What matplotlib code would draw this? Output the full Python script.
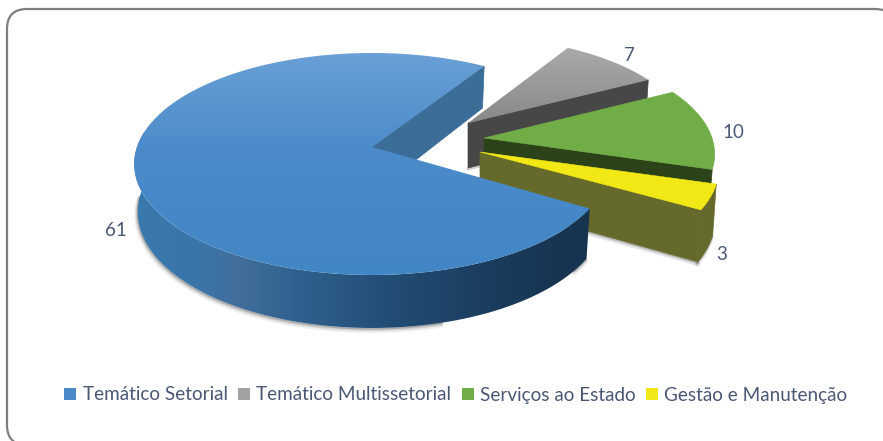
import numpy as np
import matplotlib
matplotlib.use("Agg")
import matplotlib.pyplot as plt
from matplotlib.patches import Polygon, FancyBboxPatch, Patch
from matplotlib.colors import LinearSegmentedColormap

categories = ["Temático Setorial", "Temático Multissetorial", "Serviços ao Estado", "Gestão e Manutenção"]
values = [61, 7, 10, 3]
legend_colors = ["#4a8ac8", "#a2a2a2", "#70ad47", "#f2e816"]

# slice geometry: apex x, apex y, horizontal radius, vertical radius, perspective, depth at centre, depth slope
GEOM = [(372, 147, 235, 108.4, 0.153, 47, 6),
        (468, 123, 218, 99, 0.15, 45, 6),
        (484, 138, 228, 105, 0.15, 38, 6),
        (480, 152, 236, 107, 0.15, 49, 6)]
START_ANGLE = -30.0  # the first slice starts here, slices run clockwise
FIRST_SLICE_TURN = -1.5  # the exploded first slice sits slightly turned in the projection
TEXT = "#4a5875"
FONT = "Lato"

plt.rcParams["font.family"] = [FONT, "DejaVu Sans"]
fig = plt.figure(figsize=(8.83, 4.41), dpi=100)
ax = fig.add_axes([0, 0, 1, 1])
ax.set_xlim(0, 883)
ax.set_ylim(441, 0)
ax.axis("off")

ax.add_patch(FancyBboxPatch((7 + 20, 9 + 20), 888 - 40, 436 - 40, boxstyle="round,pad=20,rounding_size=20",
                            fc="white", ec="#7f7f7f", lw=1.6, zorder=0))

total = sum(values)
spans = [v / total * 360 for v in values]
edges = START_ANGLE - np.concatenate([[0], np.cumsum(spans)])


def top_pt(g, deg, r=1.0):
    cx, cy, A, a, k, d0, d1 = g
    X, Y = r * np.cos(np.radians(deg)), r * np.sin(np.radians(deg))
    f = 1 / (1 + k * Y)
    return np.array([cx + A * X * f, cy - a * Y * f])


def bot_pt(g, deg, r=1.0):
    cx, cy, A, a, k, d0, d1 = g
    p = top_pt(g, deg, r)
    Y = r * np.sin(np.radians(deg))
    return np.array([cx + (p[0] - cx) * 0.985, p[1] + d0 - d1 * Y])


def arc(fn, g, a0, a1, n=160):
    return np.array([fn(g, d) for d in np.linspace(a0, a1, n)])


def wedge(g, a0, a1):
    return np.vstack([[g[0], g[1]], arc(top_pt, g, a0, a1)])


def cut_face(g, deg):
    return [top_pt(g, deg, 0), top_pt(g, deg), bot_pt(g, deg), bot_pt(g, deg, 0)]


def gradient_fill(poly, stops, cols, z, horizontal=False):
    p = Polygon(poly, closed=True, fc="none", ec="none", transform=ax.transData)
    ax.add_patch(p)
    s0, s1 = stops[0], stops[-1]
    cm = LinearSegmentedColormap.from_list(
        "g", [((s - s0) / (s1 - s0), c) for s, c in zip(stops, cols)])
    ramp = np.linspace(0, 1, 256)
    if horizontal:
        im = ax.imshow(ramp[None, :], cmap=cm, extent=(s0, s1, 441, 0), aspect="auto", zorder=z,
                       interpolation="bilinear")
    else:
        im = ax.imshow(ramp[:, None], cmap=cm, extent=(0, 883, s1, s0), aspect="auto", zorder=z,
                       interpolation="bilinear")
    im.set_clip_path(p)


def rim_poly(g, a0, a1):
    return np.vstack([arc(top_pt, g, a0, a1), arc(bot_pt, g, a1, a0)])


def shadow(g, a0, a1, z):
    b = arc(bot_pt, g, a0, a1)
    for off, al, lw in [(2.5, 0.10, 3.5), (1.5, 0.18, 2.2), (0.8, 0.30, 1.2)]:
        ax.plot(b[:, 0] - off * 0.4, b[:, 1] + off, color="#555555", alpha=al, lw=lw, zorder=z,
                solid_capstyle="round")


# ----- gray slice
g = GEOM[1]
a0, a1 = edges[2], edges[1]
ax.add_patch(Polygon(cut_face(g, a0), closed=True, fc="#474747", ec="#474747", lw=0.5, zorder=2))
gradient_fill(wedge(g, a0, a1), [45, 130], ["#ababab", "#858585"], 3)
b = np.array([bot_pt(g, a0, 0), bot_pt(g, a0, 0.1)])
ax.plot(b[:, 0], b[:, 1] + 1, color="#888888", alpha=0.4, lw=2, zorder=1)

# ----- green slice
g = GEOM[2]
a0, a1 = edges[3], edges[2]
ax.add_patch(Polygon(cut_face(g, a0), closed=True, fc="#2c431a", ec="#2c431a", lw=0.5, zorder=4))
ax.add_patch(Polygon(wedge(g, a0, a1), closed=True, fc=legend_colors[2], ec=legend_colors[2], lw=0.4, zorder=5))

# ----- yellow slice
g = GEOM[3]
a0, a1 = edges[4], edges[3]
shadow(g, a0, a1, 5.5)
b = np.array([bot_pt(g, a0, 0.4), bot_pt(g, a0, 1.0)])
for off, al, lw in [(2.0, 0.15, 3), (1.0, 0.3, 1.5)]:
    ax.plot(b[:, 0], b[:, 1] + off, color="#555555", alpha=al, lw=lw, zorder=5.5)
ax.add_patch(Polygon(cut_face(g, a0), closed=True, fc="#66692c", ec="#66692c", lw=0.5, zorder=6))
ax.add_patch(Polygon(rim_poly(g, a0, a1), closed=True, fc="#66692c", ec="#66692c", lw=0.5, zorder=6))
ax.add_patch(Polygon(wedge(g, a0, a1), closed=True, fc=legend_colors[3], ec=legend_colors[3], lw=0.4, zorder=7))

# ----- blue slice
g = GEOM[0]
a0, a1 = edges[0] + FIRST_SLICE_TURN, edges[1] + FIRST_SLICE_TURN
shadow(g, -75, -179, 7.5)
shadow(g, a0, a0 - 6, 7.5)
ax.add_patch(Polygon(cut_face(g, a1 + 360), closed=True, fc="#3c6d99", ec="#3c6d99", lw=0.5, zorder=8))
gradient_fill(rim_poly(g, a0, -188), [130, 200, 235, 300, 400, 500, 590],
              ["#3b7aae", "#3a74a9", "#436f9c", "#2f608d", "#214b72", "#1a3b5c", "#16334f"], 9, horizontal=True)
gradient_fill(wedge(g, a0, a1), [50, 150, 280], ["#6ba0d7", "#4b8bca", "#4186c5"], 10)

# ----- value labels
label_xy = [(116, 230.5), (629, 55.5), (733, 132.5), (722, 254.5)]
for v, (x, y) in zip(values, label_xy):
    ax.text(x, y, str(v), ha="center", va="center", fontsize=13.5, color=TEXT, zorder=12)

# ----- legend
handles = [Patch(fc=c, ec=c, lw=0) for c in legend_colors]
leg = ax.legend(handles, categories, loc="center", bbox_to_anchor=(456, 395), bbox_transform=ax.transData,
                ncol=4, frameon=False, fontsize=13.6, labelcolor=TEXT, handlelength=0.62, handleheight=0.62,
                handletextpad=0.35, columnspacing=0.55, borderpad=0, borderaxespad=0)
leg.set_zorder(12)

ax.set_xlim(0, 883)
ax.set_ylim(441, 0)
fig.savefig("out.png", dpi=100)
